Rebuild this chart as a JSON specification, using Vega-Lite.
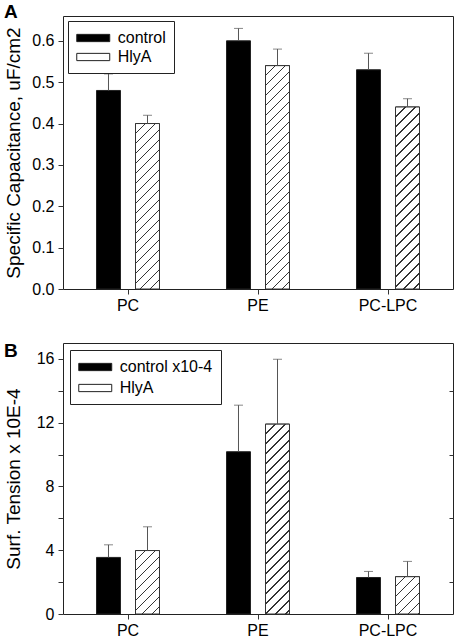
{
  "$schema": "https://vega.github.io/schema/vega-lite/v6.json",
  "background": "white",
  "padding": {"left": 3, "top": 2, "right": 3, "bottom": 2},
  "bounds": "flush",
  "spacing": 54,
  "params": [
    {"name": "hatchStops", "value": [
      {"offset": 0, "color": "#fff"},
      {"offset": 0.037, "color": "#fff"}, {"offset": 0.037, "color": "#333"}, {"offset": 0.043, "color": "#333"}, {"offset": 0.043, "color": "#fff"},
      {"offset": 0.077, "color": "#fff"}, {"offset": 0.077, "color": "#333"}, {"offset": 0.083, "color": "#333"}, {"offset": 0.083, "color": "#fff"},
      {"offset": 0.117, "color": "#fff"}, {"offset": 0.117, "color": "#333"}, {"offset": 0.123, "color": "#333"}, {"offset": 0.123, "color": "#fff"},
      {"offset": 0.157, "color": "#fff"}, {"offset": 0.157, "color": "#333"}, {"offset": 0.163, "color": "#333"}, {"offset": 0.163, "color": "#fff"},
      {"offset": 0.197, "color": "#fff"}, {"offset": 0.197, "color": "#333"}, {"offset": 0.203, "color": "#333"}, {"offset": 0.203, "color": "#fff"},
      {"offset": 0.237, "color": "#fff"}, {"offset": 0.237, "color": "#333"}, {"offset": 0.243, "color": "#333"}, {"offset": 0.243, "color": "#fff"},
      {"offset": 0.277, "color": "#fff"}, {"offset": 0.277, "color": "#333"}, {"offset": 0.283, "color": "#333"}, {"offset": 0.283, "color": "#fff"},
      {"offset": 0.317, "color": "#fff"}, {"offset": 0.317, "color": "#333"}, {"offset": 0.323, "color": "#333"}, {"offset": 0.323, "color": "#fff"},
      {"offset": 0.357, "color": "#fff"}, {"offset": 0.357, "color": "#333"}, {"offset": 0.363, "color": "#333"}, {"offset": 0.363, "color": "#fff"},
      {"offset": 0.397, "color": "#fff"}, {"offset": 0.397, "color": "#333"}, {"offset": 0.403, "color": "#333"}, {"offset": 0.403, "color": "#fff"},
      {"offset": 0.437, "color": "#fff"}, {"offset": 0.437, "color": "#333"}, {"offset": 0.443, "color": "#333"}, {"offset": 0.443, "color": "#fff"},
      {"offset": 0.477, "color": "#fff"}, {"offset": 0.477, "color": "#333"}, {"offset": 0.483, "color": "#333"}, {"offset": 0.483, "color": "#fff"},
      {"offset": 0.517, "color": "#fff"}, {"offset": 0.517, "color": "#333"}, {"offset": 0.523, "color": "#333"}, {"offset": 0.523, "color": "#fff"},
      {"offset": 0.557, "color": "#fff"}, {"offset": 0.557, "color": "#333"}, {"offset": 0.563, "color": "#333"}, {"offset": 0.563, "color": "#fff"},
      {"offset": 0.597, "color": "#fff"}, {"offset": 0.597, "color": "#333"}, {"offset": 0.603, "color": "#333"}, {"offset": 0.603, "color": "#fff"},
      {"offset": 0.637, "color": "#fff"}, {"offset": 0.637, "color": "#333"}, {"offset": 0.643, "color": "#333"}, {"offset": 0.643, "color": "#fff"},
      {"offset": 0.677, "color": "#fff"}, {"offset": 0.677, "color": "#333"}, {"offset": 0.683, "color": "#333"}, {"offset": 0.683, "color": "#fff"},
      {"offset": 0.717, "color": "#fff"}, {"offset": 0.717, "color": "#333"}, {"offset": 0.723, "color": "#333"}, {"offset": 0.723, "color": "#fff"},
      {"offset": 0.757, "color": "#fff"}, {"offset": 0.757, "color": "#333"}, {"offset": 0.763, "color": "#333"}, {"offset": 0.763, "color": "#fff"},
      {"offset": 0.797, "color": "#fff"}, {"offset": 0.797, "color": "#333"}, {"offset": 0.803, "color": "#333"}, {"offset": 0.803, "color": "#fff"},
      {"offset": 0.837, "color": "#fff"}, {"offset": 0.837, "color": "#333"}, {"offset": 0.843, "color": "#333"}, {"offset": 0.843, "color": "#fff"},
      {"offset": 0.877, "color": "#fff"}, {"offset": 0.877, "color": "#333"}, {"offset": 0.883, "color": "#333"}, {"offset": 0.883, "color": "#fff"},
      {"offset": 0.917, "color": "#fff"}, {"offset": 0.917, "color": "#333"}, {"offset": 0.923, "color": "#333"}, {"offset": 0.923, "color": "#fff"},
      {"offset": 0.957, "color": "#fff"}, {"offset": 0.957, "color": "#333"}, {"offset": 0.963, "color": "#333"}, {"offset": 0.963, "color": "#fff"},
      {"offset": 1, "color": "#fff"}
    ]}
  ],
  "config": {
    "font": "Liberation Sans",
    "view": {"stroke": "#222", "strokeWidth": 1},
    "axis": {
      "grid": false, "domain": false, "tickColor": "#333", "tickSize": 5,
      "labelFontSize": 16, "labelColor": "black", "labelFont": "Liberation Sans",
      "titleFontSize": 19, "titleFontWeight": "normal", "titleColor": "black", "titleFont": "Liberation Sans"
    },
    "legend": {
      "labelFontSize": 16, "labelColor": "black", "labelFont": "Liberation Sans",
      "symbolType": "M-2,-0.44H2V0.44H-2Z", "symbolSize": 272, "symbolOffset": 8.25,
      "symbolStrokeColor": "#222", "symbolStrokeWidth": 1,
      "strokeColor": "#222", "fillColor": "white", "padding": 8, "labelOffset": 15.5,
      "cornerRadius": 0, "title": null
    }
  },
  "resolve": {"scale": {"fill": "independent"}, "legend": {"fill": "independent"}},
  "vconcat": [
    {
      "width": 390, "height": 273,
      "title": {"text": "A", "anchor": "start", "frame": "bounds", "fontSize": 19, "fontWeight": "bold", "baseline": "alphabetic", "offset": -21, "font": "Liberation Sans", "color": "black"},
      "data": {"values": [
        {"lipid": "PC", "treat": "control", "value": 0.48, "hi": 0.52},
        {"lipid": "PC", "treat": "HlyA", "value": 0.40, "hi": 0.42},
        {"lipid": "PE", "treat": "control", "value": 0.60, "hi": 0.63},
        {"lipid": "PE", "treat": "HlyA", "value": 0.54, "hi": 0.58},
        {"lipid": "PC-LPC", "treat": "control", "value": 0.53, "hi": 0.57},
        {"lipid": "PC-LPC", "treat": "HlyA", "value": 0.44, "hi": 0.46}
      ]},
      "encoding": {
        "x": {"field": "lipid", "type": "nominal", "sort": ["PC", "PE", "PC-LPC"], "scale": {"paddingInner": 0, "paddingOuter": 0}, "axis": {"title": null, "labelAngle": 0, "labelPadding": 3}},
        "xOffset": {"field": "treat", "type": "nominal", "sort": ["control", "HlyA"], "scale": {"paddingInner": 0.385, "paddingOuter": 0.859}}
      },
      "resolve": {"axis": {"y": "independent"}},
      "layer": [
        {
          "mark": {"type": "bar", "stroke": "#222", "strokeWidth": 1},
          "encoding": {
            "y": {"field": "value", "type": "quantitative", "scale": {"domain": [0, 0.66], "nice": false}, "axis": {"title": "Specific Capacitance, uF/cm2", "values": [0, 0.1, 0.2, 0.3, 0.4, 0.5, 0.6], "format": ".1f", "labelPadding": 4, "minExtent": 31, "maxExtent": 31, "titlePadding": 9}},
            "fill": {"field": "treat", "type": "nominal", "sort": ["control", "HlyA"], "scale": {"domain": ["control", "HlyA"], "range": ["black", "white"]},
              "legend": {"orient": "top-left", "offset": 5, "rowPadding": 2,
                "encode": {"symbols": {"update": {"stroke": {"value": "#222"}, "strokeWidth": {"value": 1}, "fill": {"signal": "datum.value === 'HlyA' ? {gradient: 'linear', x1: 0, y1: 0, x2: 7.22, y2: 1.6, stops: hatchStops} : 'black'"}}}}}}
          }
        },
        {
          "transform": [{"filter": "datum.treat === 'HlyA'"}],
          "mark": {"type": "bar", "stroke": "#333", "strokeWidth": 1},
          "encoding": {
            "y": {"field": "value", "type": "quantitative", "axis": null},
            "fill": {"value": {"expr": "{gradient: 'linear', x1: 0, y1: 0, x2: 6000 / (576 + pow(datum.value * 413.64, 2)), y2: 250 * datum.value * 413.64 / (576 + pow(datum.value * 413.64, 2)), stops: hatchStops}"}}
          }
        },
        {
          "mark": {"type": "rule", "color": "#555", "strokeWidth": 1},
          "encoding": {
            "y": {"field": "value", "type": "quantitative", "axis": null},
            "y2": {"field": "hi"}
          }
        },
        {
          "mark": {"type": "tick", "color": "#555", "size": 9, "thickness": 1, "orient": "horizontal"},
          "encoding": {
            "y": {"field": "hi", "type": "quantitative", "axis": null}
          }
        }
      ]
    },
    {
      "width": 390, "height": 271,
      "title": {"text": "B", "anchor": "start", "frame": "bounds", "fontSize": 19, "fontWeight": "bold", "baseline": "alphabetic", "offset": -33, "font": "Liberation Sans", "color": "black"},
      "data": {"values": [
        {"lipid": "PC", "treat": "control", "value": 3.55, "hi": 4.34},
        {"lipid": "PC", "treat": "HlyA", "value": 3.98, "hi": 5.47},
        {"lipid": "PE", "treat": "control", "value": 10.18, "hi": 13.1},
        {"lipid": "PE", "treat": "HlyA", "value": 11.91, "hi": 15.98},
        {"lipid": "PC-LPC", "treat": "control", "value": 2.29, "hi": 2.67},
        {"lipid": "PC-LPC", "treat": "HlyA", "value": 2.34, "hi": 3.3}
      ]},
      "encoding": {
        "x": {"field": "lipid", "type": "nominal", "sort": ["PC", "PE", "PC-LPC"], "scale": {"paddingInner": 0, "paddingOuter": 0}, "axis": {"title": null, "labelAngle": 0, "labelPadding": 3}},
        "xOffset": {"field": "treat", "type": "nominal", "sort": ["control", "HlyA"], "scale": {"paddingInner": 0.385, "paddingOuter": 0.859}}
      },
      "resolve": {"axis": {"y": "independent"}},
      "layer": [
        {
          "mark": {"type": "bar", "stroke": "#222", "strokeWidth": 1},
          "encoding": {
            "y": {"field": "value", "type": "quantitative", "scale": {"domain": [0, 17], "nice": false}, "axis": {"title": "Surf. Tension x 10E-4", "values": [0, 2, 4, 6, 8, 10, 12, 14, 16], "labelExpr": "datum.value % 4 === 0 ? datum.label : ''", "labelPadding": 4, "minExtent": 31, "maxExtent": 31, "titlePadding": 9}},
            "fill": {"field": "treat", "type": "nominal", "sort": ["control", "HlyA"], "scale": {"domain": ["control", "HlyA"], "range": ["black", "white"]},
              "legend": {"orient": "top-left", "offset": 7, "rowPadding": 4,
                "labelExpr": "datum.label === 'control' ? 'control x10-4' : datum.label",
                "encode": {"symbols": {"update": {"stroke": {"value": "#222"}, "strokeWidth": {"value": 1}, "fill": {"signal": "datum.value === 'HlyA' ? {gradient: 'linear', x1: 0, y1: 0, x2: 7.22, y2: 1.6, stops: hatchStops} : 'black'"}}}}}}
          }
        },
        {
          "transform": [{"filter": "datum.treat === 'HlyA'"}],
          "mark": {"type": "bar", "stroke": "#333", "strokeWidth": 1},
          "encoding": {
            "y": {"field": "value", "type": "quantitative", "axis": null},
            "fill": {"value": {"expr": "{gradient: 'linear', x1: 0, y1: 0, x2: 6000 / (576 + pow(datum.value * 15.941, 2)), y2: 250 * datum.value * 15.941 / (576 + pow(datum.value * 15.941, 2)), stops: hatchStops}"}}
          }
        },
        {
          "mark": {"type": "rule", "color": "#555", "strokeWidth": 1},
          "encoding": {
            "y": {"field": "value", "type": "quantitative", "axis": null},
            "y2": {"field": "hi"}
          }
        },
        {
          "mark": {"type": "tick", "color": "#555", "size": 9, "thickness": 1, "orient": "horizontal"},
          "encoding": {
            "y": {"field": "hi", "type": "quantitative", "axis": {"orient": "right", "values": [2, 6, 10, 14], "tickSize": -4, "labels": false, "title": null, "domain": false}}
          }
        }
      ]
    }
  ]
}
